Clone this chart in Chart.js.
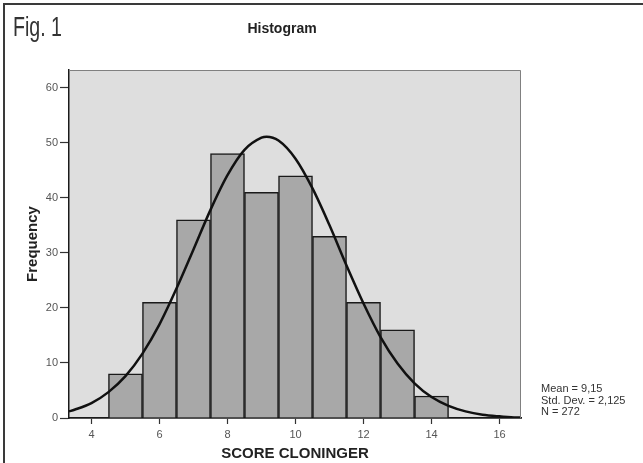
<!DOCTYPE html>
<html>
<head>
<meta charset="utf-8">
<script src="https://cdn.jsdelivr.net/npm/chart.js@4.4.1/dist/chart.umd.min.js"></script>
<style>
  body { margin: 0; background: #fff; }
  #wrap { position: relative; width: 643px; height: 463px; overflow: hidden; }
  #frame { position: absolute; left: 3px; top: 3px; width: 700px; height: 500px;
           border-top: 2px solid #3a3a3a; border-left: 2px solid #3a3a3a; }
  #fig { position: absolute; left: 13px; top: 13px; font: 28px/1 'Liberation Sans Narrow', 'Liberation Sans', sans-serif;
         color: #333; transform: scaleX(0.7); transform-origin: 0 0; }
  #title { position: absolute; left: 182px; width: 200px; top: 21px; text-align: center;
           font: bold 14px/1 'Liberation Sans', Arial, sans-serif; color: #222; }
  #stats { position: absolute; left: 541px; top: 383px; font: 11px/11.5px 'Liberation Sans', Arial, sans-serif; color: #333; }
  canvas { position: absolute; left: 0; top: 0; }
</style>
</head>
<body>
<div id="wrap">
  <canvas id="hist" width="643" height="463"></canvas>
  <div id="frame"></div>
  <div id="fig">Fig. 1</div>
  <div id="title">Histogram</div>
  <div id="stats">Mean = 9,15<br>Std. Dev. = 2,125<br>N = 272</div>
</div>
<script>
// histogram bins (score) and counts
var binCenters = [5, 6, 7, 8, 9, 10, 11, 12, 13, 14];
var frequencies = [8, 21, 36, 48, 41, 44, 33, 21, 16, 4];

// normal curve
var curveX = [3.34, 3.5, 4, 4.5, 5, 5.5, 6, 6.5, 7, 7.5, 8, 8.5, 9, 9.15, 9.5, 10,
              10.5, 11, 11.5, 12, 12.5, 13, 13.5, 14, 14.5, 15, 15.5, 16, 16.5, 16.63];
var curveY = [1.2, 1.5, 2.7, 4.7, 7.6, 11.7, 17.0, 23.5, 30.6, 37.8, 44.1, 48.7, 50.9, 51.1, 50.4, 47.1,
              41.7, 35.0, 27.7, 20.8, 14.7, 9.9, 6.3, 3.8, 2.2, 1.2, 0.6, 0.3, 0.1, 0.1];

var xTicks = [4, 6, 8, 10, 12, 14, 16];
var yTicks = [0, 10, 20, 30, 40, 50, 60];

Chart.defaults.font.family = "'Liberation Sans', Arial, sans-serif";

var plotBox = {
    id: 'plotBox',
    beforeDraw: function (chart) {
        var a = chart.chartArea, ctx = chart.ctx;
        ctx.save();
        ctx.fillStyle = '#dedede';
        ctx.fillRect(a.left, a.top, a.right - a.left, a.bottom - a.top);
        ctx.restore();
    },
    afterDraw: function (chart) {
        var a = chart.chartArea, ctx = chart.ctx;
        ctx.save();
        ctx.strokeStyle = '#808080';
        ctx.lineWidth = 1;
        ctx.beginPath();
        ctx.moveTo(a.left, a.top + 0.5);
        ctx.lineTo(a.right - 0.5, a.top + 0.5);
        ctx.lineTo(a.right - 0.5, a.bottom);
        ctx.stroke();
        ctx.restore();
    }
};

var ctx = document.getElementById('hist').getContext('2d');
var chart = new Chart(ctx, {
    type: 'bar',
    data: {
        datasets: [{
            type: 'line',
            data: curveX.map(function (x, i) { return { x: x, y: curveY[i] }; }),
            borderColor: '#111',
            borderWidth: 2.5,
            pointRadius: 0,
            cubicInterpolationMode: 'monotone',
            order: 0
        }, {
            type: 'bar',
            data: binCenters.map(function (x, i) { return { x: x, y: frequencies[i] }; }),
            backgroundColor: '#a8a8a8',
            borderColor: '#1a1a1a',
            borderWidth: 1.5,
            barPercentage: 1,
            categoryPercentage: 1,
            order: 1
        }]
    },
    options: {
        responsive: false,
        animation: false,
        layout: { padding: { left: 0, top: 70, right: 122, bottom: 0 } },
        plugins: { legend: { display: false }, tooltip: { enabled: false } },
        scales: {
            x: {
                type: 'linear',
                offset: false,
                min: 3.34,
                max: 16.63,
                afterBuildTicks: function (s) { s.ticks = xTicks.map(function (v) { return { value: v }; }); },
                afterFit: function (s) { s.height = 45; },
                ticks: { font: { size: 11 }, color: '#555', padding: 4 },
                grid: { offset: false, drawOnChartArea: false, tickLength: 6, color: '#333', tickWidth: 1.2 },
                border: { color: '#1a1a1a', width: 1.8 },
                title: { display: true, text: 'SCORE CLONINGER', font: { size: 15, weight: 'bold' },
                         color: '#222', padding: { top: 0, bottom: 0 } }
            },
            y: {
                min: 0,
                max: 63.2,
                afterBuildTicks: function (s) { s.ticks = yTicks.map(function (v) { return { value: v }; }); },
                afterFit: function (s) { s.width = 69; },
                ticks: { font: { size: 11 }, color: '#555', padding: 2 },
                grid: { drawOnChartArea: false, tickLength: 9, color: '#333', tickWidth: 1.2 },
                border: { color: '#1a1a1a', width: 1.5 },
                title: { display: true, text: 'Frequency', font: { size: 15, weight: 'bold' },
                         color: '#222', padding: { top: 24, bottom: 0 } }
            }
        }
    },
    plugins: [plotBox]
});
</script>
</body>
</html>
